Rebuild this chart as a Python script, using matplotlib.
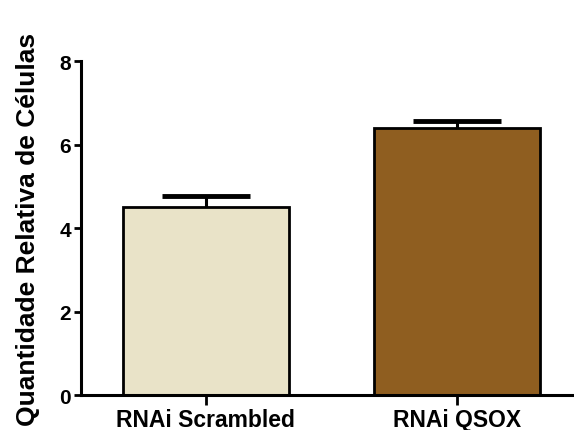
import matplotlib
matplotlib.use('Agg')
import matplotlib.pyplot as plt

# Data
groups = ['RNAi Scrambled', 'RNAi QSOX']
means = [4.51, 6.39]
errors = [0.27, 0.18]
colors = ['#E9E3C8', '#8F5E20']
yticks = [0, 2, 4, 6, 8]

plt.rcParams['font.family'] = ['Liberation Sans', 'DejaVu Sans']
plt.rcParams['font.weight'] = 'bold'

fig = plt.figure(figsize=(5.74, 4.31), dpi=100)
ax = fig.add_axes([0.141, 0.081, 0.859, 0.775])

x = range(len(groups))
ax.bar(x, means, width=0.66, color=colors, edgecolor='black', linewidth=2, zorder=2)
eb = ax.errorbar(x, means, yerr=[[0, 0], errors], fmt='none', ecolor='black',
                 elinewidth=2.2, capsize=32, capthick=3.5, zorder=3)
# only the upper cap is drawn
eb[1][0].set_visible(False)

ax.set_xlim(-0.497, 1.467)
ax.set_ylim(0, 8)
ax.set_xticks(list(x))
ax.set_xticklabels(groups, fontsize=16.5, fontweight='bold')
ax.set_yticks(yticks)
ax.set_yticklabels([str(t) for t in yticks], fontsize=15, fontweight='bold')
ax.set_ylabel('Quantidade Relativa de Células', fontsize=19, fontweight='bold', labelpad=14)

for side in ['top', 'right']:
    ax.spines[side].set_visible(False)
for side in ['left', 'bottom']:
    ax.spines[side].set_linewidth(2.2)
ax.tick_params(axis='y', length=5, width=2, pad=2)
ax.tick_params(axis='x', length=7, width=2, pad=2)

fig.savefig('out.png', dpi=100)
